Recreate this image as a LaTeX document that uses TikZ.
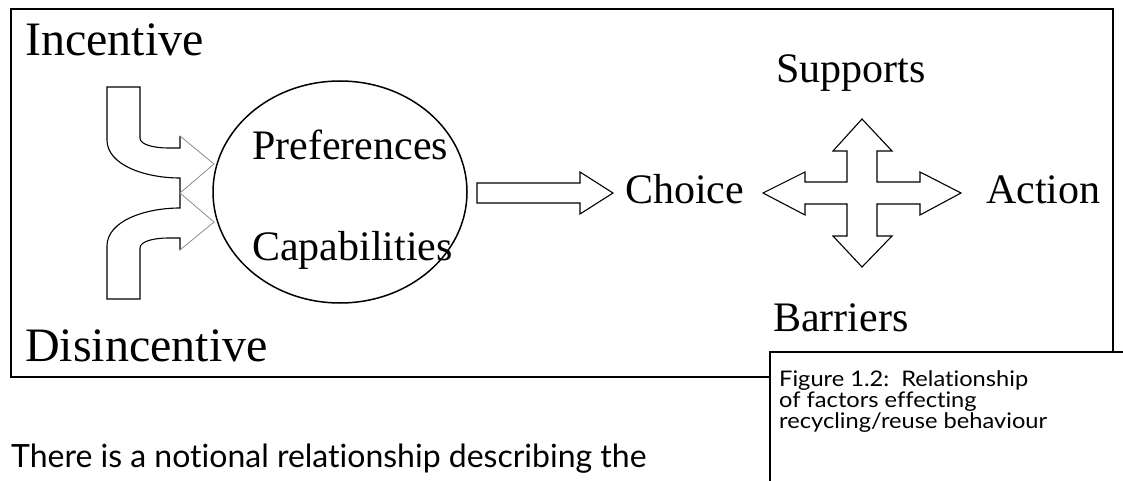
\documentclass[tikz,border=0pt]{standalone}
\usepackage{fontspec}
\setmainfont{Liberation Serif}
\newfontfamily\capfont[Ligatures=NoCommon]{Lato}
\newfontfamily\capwidefont[Ligatures=NoCommon, FakeStretch=1.1]{Lato}
\usetikzlibrary{shapes.geometric}

\tikzset{
  label/.style={font=\fontsize{42}{48}\selectfont, inner sep=0pt, anchor=base west},
  biglabel/.style={font=\fontsize{48}{54}\selectfont, inner sep=0pt, anchor=base west},
  captext/.style={font=\capwidefont\fontsize{21.5}{24}\selectfont, inner sep=0pt, anchor=base west},
  bodytext/.style={font=\capfont\fontsize{32}{38}\selectfont, inner sep=0pt, anchor=base west},
  frame/.style={draw=black, line width=2.6pt},
  blockarrow/.style={draw=black, line width=1.1pt, line join=miter},
  headline/.style={draw=black!45, line width=0.8pt},
  bubble/.style={draw=black, line width=1.5pt, ellipse, minimum width=254pt, minimum height=222pt, inner sep=0pt}
}

\begin{document}
\begin{tikzpicture}[x=1pt, y=-1pt]
\useasboundingbox (0,0) rectangle (1123,481);

% outer frame and caption box laid over its lower right corner
\draw[frame] (11,9) rectangle (1113,377);
\fill[white] (770,352) rectangle (1130,490);
\draw[frame] (770,490) -- (770,352) -- (1130,352);

% labels
\node[biglabel] (inc) at (25,56) {Incentive};
\node[biglabel] (dis) at (25,361) {Disincentive};
\node[bubble] (pc) at (340,192) {};
\node[label] (pref) at (252,160) {Preferences};
\node[label] (cap) at (252,260) {Capabilities};
\node[label] (choice) at (625,204) {Choice};
\node[label] (action) at (986,204) {Action};
\node[label] (sup) at (776,83) {Supports};
\node[label] (bar) at (773,331) {Barriers};

% merging bent arrows: shafts in black, heads in grey
\draw[blockarrow] (180,136) -- (180,148) -- (168,148)
  .. controls (155,148) and (140,145) .. (140,138) -- (140,87) -- (107,87) -- (107,140)
  .. controls (107,165) and (145,178) .. (180,178) -- (180,208)
  .. controls (145,208) and (107,221) .. (107,246) -- (107,299) -- (140,299) -- (140,248)
  .. controls (140,241) and (155,238) .. (168,238) -- (180,238) -- (180,250);
\draw[headline] (180,136) -- (214,164) -- (180,193) -- (214,222) -- (180,250);

% arrow towards the choice
\draw[blockarrow] (477,183) -- (580,183) -- (580,172) -- (613,193) -- (580,214)
  -- (580,203) -- (477,203) -- cycle;

% four-way arrow
\draw[blockarrow] (763,193) -- (805,172) -- (805,182) -- (847,182) -- (847,151)
  -- (833,151) -- (862,119) -- (892,151) -- (877,151) -- (877,182) -- (920,182)
  -- (920,172) -- (961,193) -- (920,215) -- (920,204) -- (877,204) -- (877,236)
  -- (892,236) -- (862,267) -- (833,236) -- (847,236) -- (847,204) -- (805,204)
  -- (805,215) -- cycle;

% caption and running text
\node[captext] (cap1) at (779,386) {Figure 1.2:\ \ Relationship};
\node[captext] (cap2) at (779,407) {of factors effecting};
\node[captext] (cap3) at (779,428) {recycling/reuse behaviour};
\node[bodytext] (body) at (11,467) {There is a notional relationship describing the};
\end{tikzpicture}
\end{document}
